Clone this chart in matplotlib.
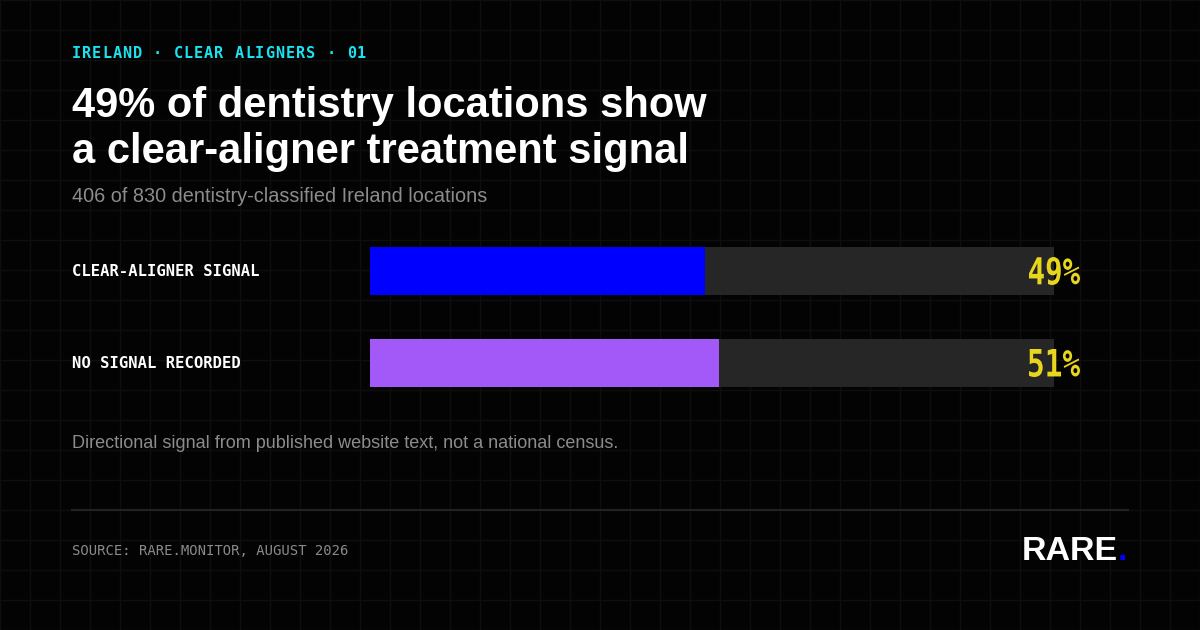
import matplotlib
matplotlib.use("Agg")
import matplotlib.pyplot as plt
from matplotlib.transforms import blended_transform_factory, Affine2D, IdentityTransform
from matplotlib.textpath import TextPath
from matplotlib.patches import PathPatch
from matplotlib.font_manager import FontProperties

# data
categories = ["CLEAR-ALIGNER SIGNAL", "NO SIGNAL RECORDED"]
shares = [49, 51]
bar_colors = ["#0000ff", "#a259f7"]

BG = "#030303"
GRID = "#0e0e0e"
TRACK = "#262626"
YELLOW = "#e8d51e"
CYAN = "#19e3f0"
GREY = "#8c8c8c"
SANS = "Liberation Sans"
MONO = "DejaVu Sans Mono"

W, H = 1200, 630
fig = plt.figure(figsize=(12, 6.3), dpi=100, facecolor=BG)

# background in pixel coords (y down)
bg = fig.add_axes([0, 0, 1, 1])
bg.set_xlim(0, W)
bg.set_ylim(H, 0)
bg.axis("off")
bg.set_facecolor(BG)
for gx in range(0, W + 1, 30):
    bg.axvline(gx, color=GRID, lw=1, zorder=0)
for gy in range(0, H + 1, 30):
    bg.axhline(gy, color=GRID, lw=1, zorder=0)

# eyebrow with letter spacing
eyebrow = "IRELAND · CLEAR ALIGNERS · 01"
step = 10.2
for i, ch in enumerate(eyebrow):
    bg.text(72 + i * step + step * 0.4, 53, ch, color=CYAN, fontsize=11,
            family=MONO, weight="bold", va="center", ha="center")

bg.text(72, 129, "49% of dentistry locations show\na clear-aligner treatment signal",
        color="white", fontsize=30, family=SANS, weight="bold",
        va="center", ha="left", linespacing=1.22)
bg.text(72, 196, "406 of 830 dentistry-classified Ireland locations",
        color=GREY, fontsize=14.3, family=SANS, va="center", ha="left")
bg.text(72, 443, "Directional signal from published website text, not a national census.",
        color=GREY, fontsize=13, family=SANS, va="center", ha="left")
bg.plot([72, 1128], [510, 510], color="#222222", lw=1.5)
bg.text(72, 551, "SOURCE: RARE.MONITOR, AUGUST 2026", color="#8a8a8a",
        fontsize=10, family=MONO, va="center", ha="left")
bg.text(1118, 552, "RARE", color="white", fontsize=24.5, family=SANS,
        weight="bold", va="center", ha="right")
bg.text(1118, 552, ".", color="#0000ff", fontsize=24.5, family=SANS,
        weight="bold", va="center", ha="left")

# bar axes: x 370..1054 px, y 247..387 px
x0, x1, y0, y1 = 370, 1054, 247, 387
ax = fig.add_axes([x0 / W, 1 - y1 / H, (x1 - x0) / W, (y1 - y0) / H])
ax.set_facecolor("none")
gap = 92
half = 24 / gap
pos = list(range(len(categories)))
ax.barh(pos, [100] * len(pos), height=2 * half, color=TRACK, zorder=1)
ax.barh(pos, shares, height=2 * half, color=bar_colors, zorder=2)
ax.set_xlim(0, 100)
ax.set_ylim(len(pos) - 1 + half, -half)
ax.axis("off")

lab_tr = blended_transform_factory(fig.transFigure, ax.transData)
mono_bold = FontProperties(family=MONO, weight="bold")
for p, cat, val in zip(pos, categories, shares):
    ax.text(72 / W, p + 0.01, cat, transform=lab_tr, color="white", fontsize=11.2,
            family=MONO, weight="bold", va="center", ha="left")
    # condensed percentage label drawn as a scaled text path
    tp = TextPath((0, 0), f"{val}%", size=40, prop=mono_bold)
    ext = tp.get_extents()
    sx = 51 / ext.width
    sy = 28 / ext.height
    _, cy = ax.transData.transform((0, p))
    tr = (Affine2D().translate(-ext.x1, -(ext.y0 + ext.y1) / 2)
          .scale(sx, sy).translate(1080, cy))
    fig.add_artist(PathPatch(tp, transform=tr + IdentityTransform(),
                             facecolor=YELLOW, edgecolor="none"))

fig.savefig("out.png", dpi=100, facecolor=BG)
